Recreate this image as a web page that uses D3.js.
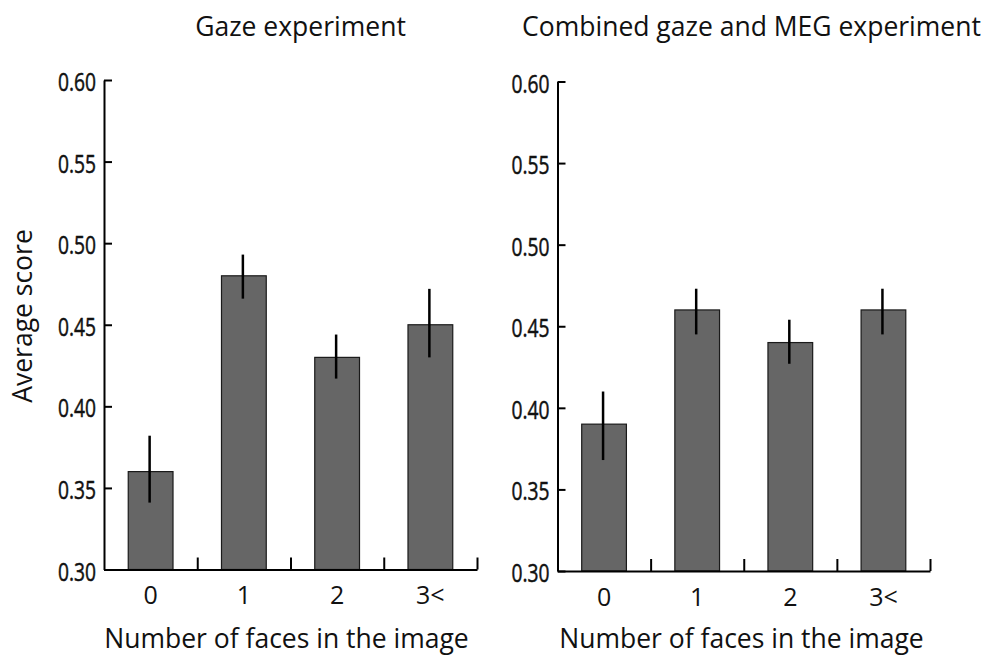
<!DOCTYPE html>
<html>
<head>
<meta charset="utf-8">
<script src="https://cdn.jsdelivr.net/npm/d3@7"></script>
<style>
  body { margin: 0; background: #fff; }
  svg text { fill: #111; }
</style>
</head>
<body>
<svg id="chart" width="992" height="655"></svg>
<script>
// categories and values
const categories = ['0', '1', '2', '3<'];
const gazeMeans = [0.36, 0.48, 0.43, 0.45];
const gazeLow = [0.341, 0.466, 0.417, 0.430];
const gazeHigh = [0.382, 0.493, 0.444, 0.472];
const megMeans = [0.39, 0.46, 0.44, 0.46];
const megLow = [0.368, 0.445, 0.427, 0.445];
const megHigh = [0.410, 0.473, 0.454, 0.473];
const yTicks = [0.30, 0.35, 0.40, 0.45, 0.50, 0.55, 0.60];

const svg = d3.select('#chart');
const labelFont = '"Open Sans", "Noto Sans", sans-serif';

function drawPanel(opts) {
    const g = svg.append('g');

    const y = d3.scaleLinear().domain([0.30, 0.60]).range([opts.bottom, opts.top]);
    const x = d3.scaleBand().domain(categories)
        .range([opts.left, opts.right])
        .paddingInner(0.52).paddingOuter(0.26);
    const xb = d3.scaleLinear().domain([0, categories.length]).range([opts.left, opts.right]);

    // bars
    g.selectAll('rect.bar')
        .data(opts.means)
        .enter()
        .append('rect')
        .attr('class', 'bar')
        .attr('x', (d, i) => x(categories[i]))
        .attr('y', d => y(d))
        .attr('width', x.bandwidth())
        .attr('height', d => y(0.30) - y(d))
        .attr('fill', '#666666')
        .attr('stroke', '#1a1a1a')
        .attr('stroke-width', 1.2);

    // error bars
    g.selectAll('line.err')
        .data(opts.means)
        .enter()
        .append('line')
        .attr('class', 'err')
        .attr('x1', (d, i) => x(categories[i]) + x.bandwidth() / 2 - 1)
        .attr('x2', (d, i) => x(categories[i]) + x.bandwidth() / 2 - 1)
        .attr('y1', (d, i) => y(opts.low[i]))
        .attr('y2', (d, i) => y(opts.high[i]))
        .attr('stroke', '#000')
        .attr('stroke-width', 2.5);

    // y axis, ticks point inward
    const yAxis = g.append('g')
        .attr('transform', `translate(${opts.left},0)`)
        .call(d3.axisLeft(y).tickValues(yTicks).tickFormat(d3.format('.2f'))
            .tickSize(-8).tickSizeOuter(0).tickPadding(8));
    yAxis.selectAll('path, line').attr('stroke', '#000').attr('stroke-width', 2);
    yAxis.selectAll('text')
        .style('font-family', labelFont)
        .style('font-size', '25px')
        .attr('dy', '0.42em')
        .attr('fill', '#111')
        .attr('stroke', '#111')
        .attr('stroke-width', 0.5)
        .each(function() {
            // condensed look of the original tick labels
            const len = this.getComputedTextLength();
            d3.select(this)
                .attr('textLength', len * 0.77)
                .attr('lengthAdjust', 'spacingAndGlyphs');
        });

    // x axis line with boundary ticks pointing up
    const xAxis = g.append('g')
        .attr('transform', `translate(0,${opts.bottom})`)
        .call(d3.axisBottom(xb).tickValues([1, 2, 3, 4]).tickFormat('')
            .tickSize(-12).tickSizeOuter(0));
    xAxis.selectAll('path, line').attr('stroke', '#000').attr('stroke-width', 2);

    // category labels
    const xLabels = g.append('g')
        .attr('transform', `translate(0,${opts.bottom})`)
        .call(d3.axisBottom(x).tickSize(0).tickPadding(17));
    xLabels.select('.domain').remove();
    xLabels.selectAll('text')
        .style('font-family', labelFont)
        .style('font-size', '25px')
        .attr('fill', '#111');

    // titles
    g.append('text')
        .attr('x', opts.titleX)
        .attr('y', 36)
        .attr('text-anchor', 'middle')
        .style('font-family', labelFont)
        .style('font-size', '26.5px')
        .text(opts.title);

    g.append('text')
        .attr('x', opts.xTitleX)
        .attr('y', 647.5)
        .attr('text-anchor', 'middle')
        .style('font-family', labelFont)
        .style('font-size', '26.5px')
        .text('Number of faces in the image');
}

drawPanel({
    left: 104, right: 477, top: 80, bottom: 569.5,
    means: gazeMeans, low: gazeLow, high: gazeHigh,
    title: 'Gaze experiment', titleX: 300.5, xTitleX: 286.5
});

drawPanel({
    left: 557.5, right: 930, top: 81.5, bottom: 571,
    means: megMeans, low: megLow, high: megHigh,
    title: 'Combined gaze and MEG experiment', titleX: 751.5, xTitleX: 741.5
});

// shared y axis label
svg.append('text')
    .attr('transform', 'translate(32,316) rotate(-90)')
    .attr('text-anchor', 'middle')
    .style('font-family', labelFont)
    .style('font-size', '26.5px')
    .text('Average score');
</script>
</body>
</html>
